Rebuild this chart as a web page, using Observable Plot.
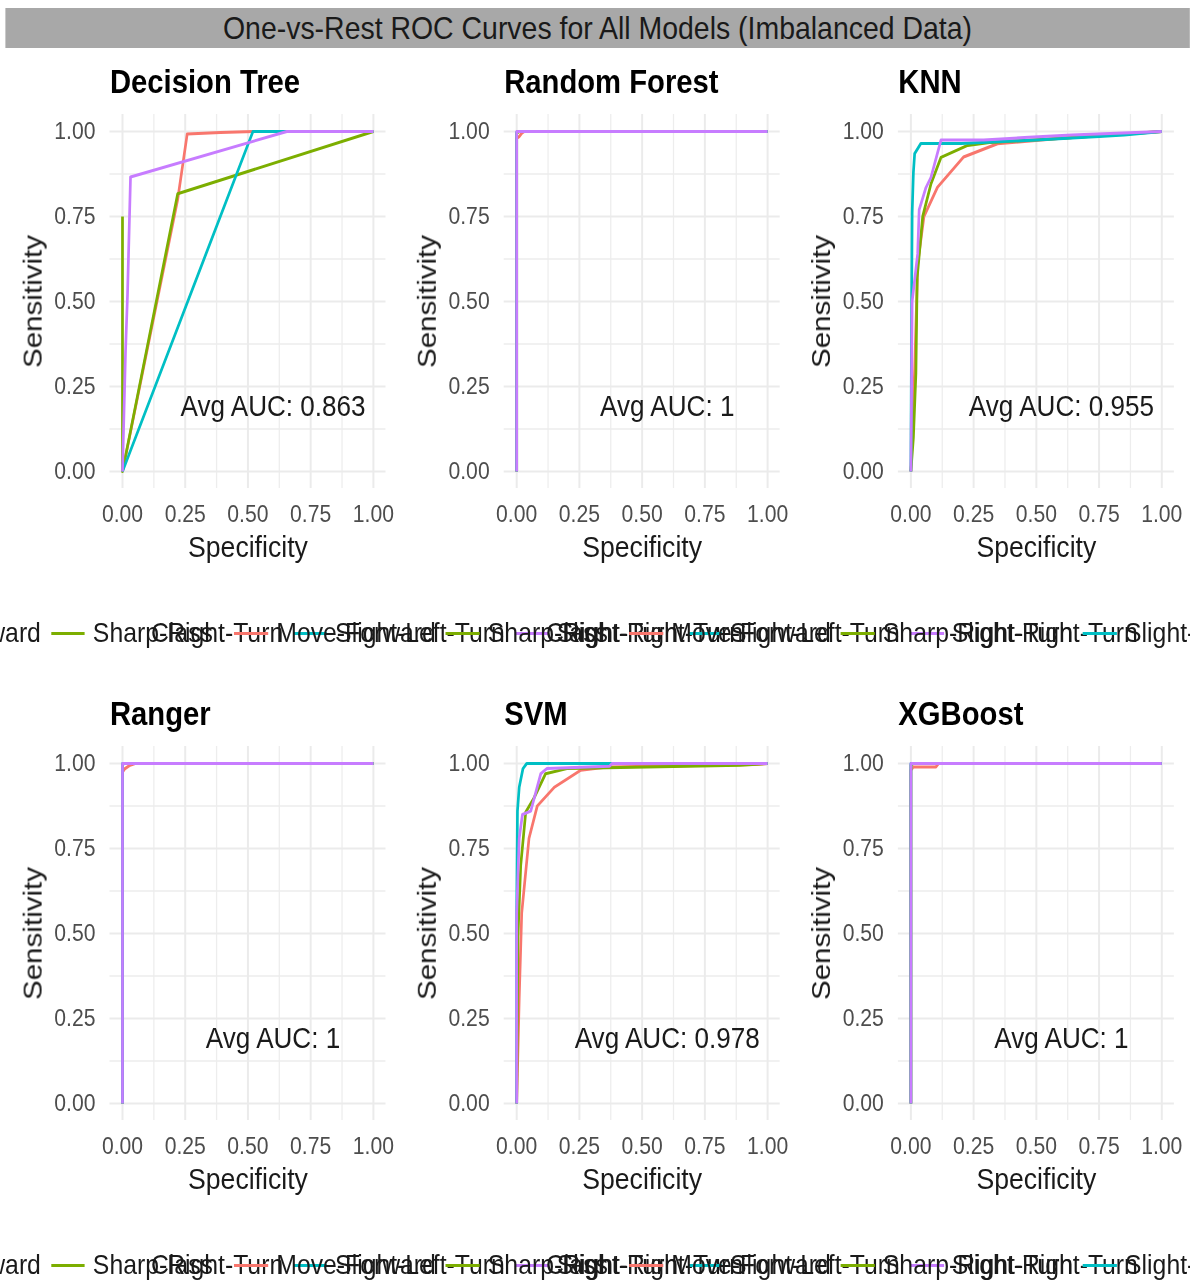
<!DOCTYPE html>
<html>
<head>
<meta charset="utf-8">
<script src="https://cdn.jsdelivr.net/npm/d3@7"></script>
<script src="https://cdn.jsdelivr.net/npm/@observablehq/plot@0.6"></script>
<style>
  html, body { margin: 0; padding: 0; background: #fff; overflow: hidden; }
  #clip { position: relative; width: 1190px; height: 1280px; overflow: hidden; }
  #root { position: absolute; left: 0; top: 0; height: 1280px; transform-origin: 0 0; font-family: "Liberation Sans", Arial, sans-serif; }
  .titlebar { position: absolute; top: 8px; height: 40px; background: #A8A8A8; color: #1a1a1a; line-height: 41px; text-align: center; white-space: nowrap; }
  .panel { position: absolute; }
  .legend { position: absolute; height: 40px; display: flex; align-items: center; white-space: nowrap; color: #1a1a1a; }
  .legend .key { display: inline-block; height: 3px; }
</style>
</head>
<body>
<div id="clip"><div id="root"></div></div>
<script>
// ---------- data ----------
const classes = ["Move-Forward", "Sharp-Right-Turn", "Slight-Left-Turn", "Slight-Right-Turn"];
const classColors = ["#F8766D", "#7CAE00", "#00BFC4", "#C77CFF"];
const models = ["Decision Tree", "Random Forest", "KNN", "Ranger", "SVM", "XGBoost"];
const avgAUC = ["0.863", "1", "0.955", "1", "0.978", "1"];
const majorBreaks = [0, 0.25, 0.5, 0.75, 1];
const minorBreaks = [0.125, 0.375, 0.625, 0.875];
const chartTitle = "One-vs-Rest ROC Curves for All Models (Imbalanced Data)";
const xTitle = "Specificity";
const yTitle = "Sensitivity";
const legendTitle = "Class";

// Decision Tree
const dtMove = [[0,0],[0.22,0.80],[0.258,0.993],[0.39,0.997],[0.523,1],[1,1]];
const dtSharpR = [[0,0.75],[0,0],[0.22,0.817],[1,1]];
const dtSlightL = [[0,0],[0.52,1],[0.655,1],[1,1]];
const dtSlightR = [[0,0],[0.012,0.35],[0.02,0.52],[0.032,0.866],[0.655,1],[1,1]];
// Random Forest
const rfMove = [[0,0],[0,0.98],[0.01,0.985],[0.02,0.995],[0.03,1],[1,1]];
const rfSharpR = [[0,0],[0,0.995],[0.01,1],[1,1]];
const rfSlightL = [[0,0],[0,0.998],[0.005,1],[1,1]];
const rfSlightR = [[0,0],[0,1],[1,1]];
// KNN
const knnMove = [[0,0],[0.015,0.3],[0.027,0.61],[0.052,0.75],[0.106,0.836],[0.21,0.925],[0.345,0.964],[0.6,0.98],[0.8,0.99],[1,1]];
const knnSharpR = [[0,0],[0.01,0.1],[0.02,0.29],[0.025,0.57],[0.047,0.75],[0.08,0.846],[0.12,0.924],[0.226,0.959],[0.32,0.968],[0.6,0.98],[1,1]];
const knnSlightL = [[0,0],[0.003,0.5],[0.005,0.76],[0.01,0.88],[0.015,0.935],[0.04,0.965],[0.2,0.965],[0.5,0.975],[0.75,0.985],[0.85,0.99],[1,1]];
const knnSlightR = [[0,0],[0.005,0.5],[0.027,0.64],[0.033,0.77],[0.06,0.835],[0.08,0.865],[0.12,0.975],[0.29,0.975],[0.47,0.983],[0.64,0.99],[0.82,0.995],[1,1]];
// Ranger
const rangerMove = [[0,0],[0,0.975],[0.01,0.985],[0.03,0.995],[0.05,1],[1,1]];
const rangerSharpR = [[0,0],[0,0.995],[0.005,1],[1,1]];
const rangerSlightL = [[0,0],[0,1],[0.01,1],[1,1]];
const rangerSlightR = [[0,0],[0,1],[1,1]];
// SVM
const svmMove = [[0,0],[0.01,0.31],[0.02,0.56],[0.049,0.78],[0.082,0.875],[0.15,0.93],[0.255,0.98],[0.36,0.99],[0.95,0.997],[1,1]];
const svmSharpR = [[0,0],[0.005,0.49],[0.016,0.70],[0.036,0.857],[0.07,0.90],[0.115,0.97],[0.2,0.985],[0.89,0.995],[1,1]];
const svmSlightL = [[0,0],[0,0.56],[0.003,0.86],[0.01,0.93],[0.025,0.985],[0.04,1],[1,1]];
const svmSlightR = [[0,0],[0,0.56],[0.01,0.78],[0.023,0.85],[0.056,0.86],[0.096,0.97],[0.12,0.985],[0.37,0.992],[0.38,1],[1,1]];
// XGBoost
const xgbMove = [[0,0],[0,0.98],[0.01,0.99],[0.1,0.99],[0.11,1],[1,1]];
const xgbSharpR = [[0,0],[0,0.995],[0.01,1],[1,1]];
const xgbSlightL = [[0,0],[0,1],[0.005,1],[1,1]];
const xgbSlightR = [[0,0],[0,1],[1,1]];

const curvesByModel = [
  [dtMove, dtSharpR, dtSlightL, dtSlightR],
  [rfMove, rfSharpR, rfSlightL, rfSlightR],
  [knnMove, knnSharpR, knnSlightL, knnSlightR],
  [rangerMove, rangerSharpR, rangerSlightL, rangerSlightR],
  [svmMove, svmSharpR, svmSlightL, svmSlightR],
  [xgbMove, xgbSharpR, xgbSlightL, xgbSlightR]
];

// ---------- layout (drawn in a wider space, then condensed horizontally like the original) ----------
const SX = 0.9;
const px = v => v / SX;           // page x -> internal x
const root = document.getElementById("root");
root.style.width = px(1190) + "px";
root.style.transform = `scaleX(${SX})`;
const FONT = "'Liberation Sans', Arial, sans-serif";

const tb = document.createElement("div");
tb.className = "titlebar";
tb.style.left = px(5) + "px";
tb.style.width = px(1185) + "px";
tb.style.fontSize = "31.6px";
tb.textContent = chartTitle;
root.appendChild(tb);

const colStep = px(394), rowTops = [56, 688], legendTops = [613, 1245];
const W = px(394), H = 514;
const ML = px(109.5), MR = px(8.5);

models.forEach((model, i) => {
  const col = i % 3, row = Math.floor(i / 3);
  const rows = [];
  curvesByModel[i].forEach((pts, k) => pts.forEach(([x, y]) => rows.push({cls: classes[k], x, y})));

  const svg = Plot.plot({
    width: W, height: H,
    marginLeft: ML, marginRight: MR, marginTop: 58, marginBottom: 82,
    x: {domain: [-0.05, 1.05]},
    y: {domain: [-0.05, 1.05]},
    color: {domain: classes, range: classColors},
    style: {fontFamily: FONT, background: "transparent", overflow: "visible", maxWidth: "none"},
    marks: [
      Plot.ruleX(minorBreaks, {stroke: "#EDEDED", strokeWidth: 1.4}),
      Plot.ruleY(minorBreaks, {stroke: "#EDEDED", strokeWidth: 1.3}),
      Plot.ruleX(majorBreaks, {stroke: "#EBEBEB", strokeWidth: 2.2}),
      Plot.ruleY(majorBreaks, {stroke: "#EBEBEB", strokeWidth: 2}),
      Plot.axisX({ticks: majorBreaks, tickFormat: d3.format(".2f"), tickSize: 0, tickPadding: 17, fontSize: 23.5, color: "#4D4D4D", label: null}),
      Plot.axisY({ticks: majorBreaks, tickFormat: d3.format(".2f"), tickSize: 0, tickPadding: px(14.5), fontSize: 23.5, color: "#4D4D4D", label: null}),
      Plot.line(rows, {x: "x", y: "y", z: "cls", stroke: "cls", strokeWidth: 3, strokeLinejoin: "round", strokeLinecap: "butt"}),
      Plot.text([{x: 0.6, y: 0.2, t: "Avg AUC: " + avgAUC[i]}], {x: "x", y: "y", text: "t", dy: 3, fontSize: 29, fill: "#1a1a1a", textAnchor: "middle", lineAnchor: "middle"}),
      Plot.text([model], {text: d => d, frameAnchor: "top-left", textAnchor: "start", lineAnchor: "middle", dy: -31.5, fontSize: 32.5, fontWeight: "bold", fill: "#000"}),
      Plot.text([xTitle], {text: d => d, frameAnchor: "bottom", textAnchor: "middle", lineAnchor: "middle", dy: 59, fontSize: 29.6, fill: "#1a1a1a"}),
      Plot.text([yTitle], {text: d => d, frameAnchor: "left", textAnchor: "middle", lineAnchor: "middle", dx: -85.6, rotate: -90, fontSize: 29.6, fill: "#1a1a1a"})
    ]
  });
  const wrap = document.createElement("div");
  wrap.className = "panel";
  wrap.style.left = (col * colStep) + "px";
  wrap.style.top = rowTops[row] + "px";
  wrap.style.width = W + "px";
  wrap.appendChild(svg);
  root.appendChild(wrap);
});

// legends (one per panel, overflowing and overlapping like the original)
legendTops.forEach(top => {
  [0, 1, 2].forEach(col => {
    const lg = document.createElement("div");
    lg.className = "legend";
    lg.style.top = top + "px";
    lg.style.left = px(-244 + 395 * col) + "px";
    lg.style.fontSize = "27.5px";
    const t = document.createElement("span");
    t.textContent = legendTitle;
    t.style.marginRight = px(21.5) + "px";
    lg.appendChild(t);
    classes.forEach((c, k) => {
      const key = document.createElement("span");
      key.className = "key";
      key.style.background = classColors[k];
      key.style.width = px(34) + "px";
      key.style.marginRight = px(8) + "px";
      const lab = document.createElement("span");
      lab.textContent = c;
      lab.style.marginRight = px(10) + "px";
      lg.appendChild(key); lg.appendChild(lab);
    });
    root.appendChild(lg);
  });
});
</script>
</body>
</html>
